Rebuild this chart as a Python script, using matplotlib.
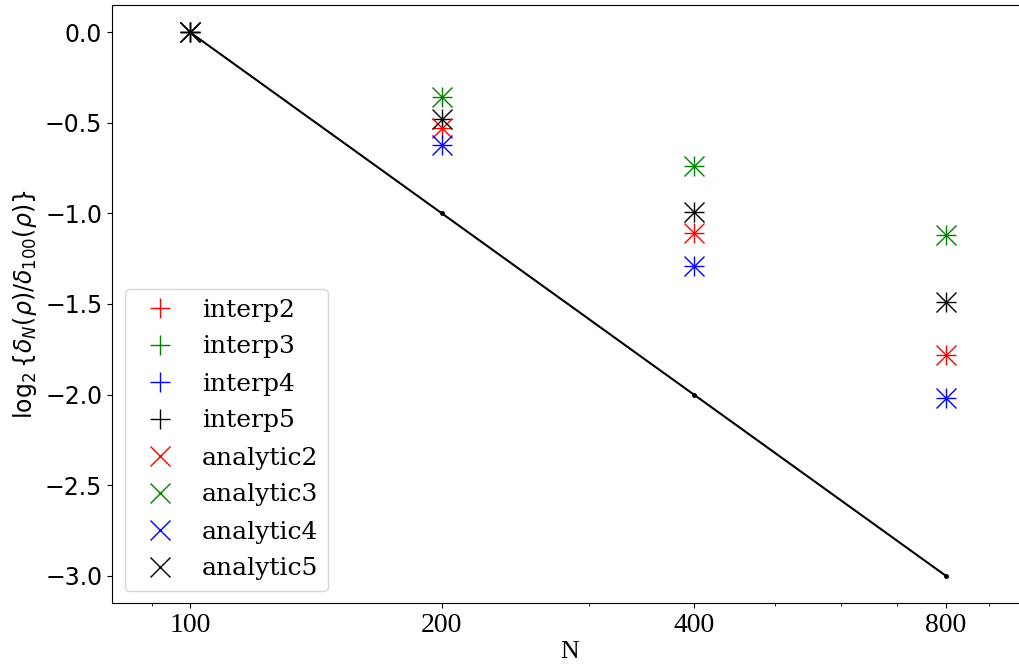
import numpy as np
import matplotlib
matplotlib.use("Agg")
from matplotlib import pyplot as plt
from matplotlib.ticker import NullFormatter, FixedLocator, FixedFormatter

N = [100, 200, 400, 800]
ideal = [0.0, -1.0, -2.0, -3.0]

# log2 error ratios
order2 = [0.0, -0.53, -1.11, -1.78]
order3 = [0.0, -0.36, -0.74, -1.12]
order4 = [0.0, -0.62, -1.29, -2.02]
order5 = [0.0, -0.48, -0.99, -1.49]

series = [order2, order3, order4, order5]
colors = ['r', 'g', 'b', 'k']
orders = [2, 3, 4, 5]

fig = plt.figure(figsize=(10.2, 6.71), dpi=100)
ax = fig.add_axes([112/1020, 68/671, 915/1020, 598/671])

ax.plot(N, ideal, 'k.-', ms=5, lw=1.5)
for s, c, o in zip(series, colors, orders):
    ax.plot(N, s, '+', color=c, ms=14.5, label='interp%d' % o)
for s, c, o in zip(series, colors, orders):
    ax.plot(N, s, 'x', color=c, ms=14.5, label='analytic%d' % o)

ax.set_xscale('log')
ax.set_xlim(80.7, 1000)
ax.xaxis.set_major_locator(FixedLocator(N))
ax.xaxis.set_major_formatter(FixedFormatter([str(n) for n in N]))
ax.xaxis.set_minor_formatter(NullFormatter())
for lab in ax.get_xticklabels():
    lab.set_fontname('Liberation Serif')
    lab.set_fontsize(20)
ax.tick_params(axis='y', labelsize=17)
ax.set_xlabel('N', fontname='Liberation Serif', fontsize=18.5, labelpad=2)
ax.set_ylabel(r'$\log_2\{\delta_N(\rho)/\delta_{100}(\rho)\}$', fontsize=17)

ax.legend(loc='lower left', prop={'family': 'DejaVu Serif', 'size': 18},
          handletextpad=0.7, labelspacing=0.56)

fig.savefig('out.png', dpi=100)
